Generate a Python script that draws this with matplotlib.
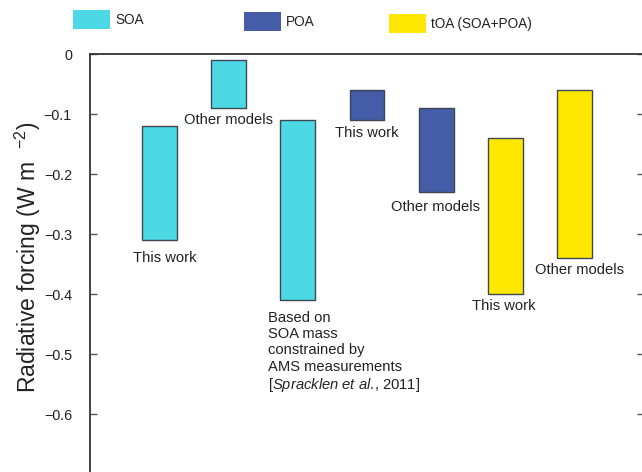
import matplotlib
matplotlib.use("Agg")
import matplotlib.pyplot as plt
from matplotlib.patches import Patch

# Radiative forcing ranges (W m-2) for each estimate
groups = ["SOA", "SOA", "SOA", "POA", "POA", "tOA", "tOA"]
upper = [-0.12, -0.01, -0.11, -0.06, -0.09, -0.14, -0.06]
lower = [-0.31, -0.09, -0.41, -0.11, -0.23, -0.40, -0.34]
bar_labels = [
    "This work",
    "Other models",
    "Based on\nSOA mass\nconstrained by\nAMS measurements\n[$\\it{Spracklen\\ et\\ al.}\\!\\mathrm{,}$ 2011]",
    "This work",
    "Other models",
    "This work",
    "Other models",
]
legend_names = {"SOA": "SOA", "POA": "POA", "tOA": "tOA (SOA+POA)"}
yticks = [0, -0.1, -0.2, -0.3, -0.4, -0.5, -0.6]

colors = {"SOA": "#4dd8e6", "POA": "#455ca8", "tOA": "#ffe800"}
edge = "#3d4652"
txt = "#222222"
font = "Liberation Sans"

plt.rcParams["font.family"] = [font, "DejaVu Sans"]
plt.rcParams["mathtext.fontset"] = "custom"
plt.rcParams["mathtext.rm"] = font
plt.rcParams["mathtext.it"] = font + ":italic"
plt.rcParams["axes.unicode_minus"] = True

fig = plt.figure(figsize=(6.42, 4.72), dpi=100)
W, H = 642, 472
ax = fig.add_axes([90 / W, (418 - 480) / H, 554 / W, 480 / H])

xs = list(range(1, len(upper) + 1))
heights = [u - l for u, l in zip(upper, lower)]
ax.bar(xs, heights, bottom=lower, width=0.5,
       color=[colors[g] for g in groups], edgecolor=edge, linewidth=1.0, zorder=2)

# label placement below each bar (pixel offsets)
label_dx = [5.5, 0, -29.5, -0.5, -1, -2, 4.5]
label_dy = [-11, -5, -11, -6, -8, -5, -5]
label_ha = ["center", "center", "left", "center", "center", "center", "center"]
for x, lo, lab, dx, dy, ha in zip(xs, lower, bar_labels, label_dx, label_dy, label_ha):
    ax.annotate(lab, xy=(x, lo), xytext=(dx, dy), textcoords="offset pixels",
                ha=ha, va="top", fontsize=10.6, color=txt,
                linespacing=1.2, multialignment="left")

ax.set_xlim(0, 8)
ax.set_ylim(-0.8, 0)
ax.set_xticks([])
ax.set_yticks(yticks)
ax.set_yticklabels(["0" if t == 0 else f"{t:.1f}".replace("-", "\u2212") for t in yticks])
ax.tick_params(axis="y", direction="in", length=5, width=1, color="#555555",
               labelsize=10.4, labelcolor=txt, pad=13, right=True)
for s in ax.spines.values():
    s.set_color("#333333")
    s.set_linewidth(1.3)

ax.set_ylabel("Radiative forcing (W m  $^{\\mathrm{\u2212}2}$)", fontsize=16.5, color=txt)
ax.yaxis.set_label_coords(-0.085, 0.577)

# one legend entry per group, spread along the top
leg_pos = [(73, 10), (244, 12), (389, 14)]
for g, (px, py) in zip(["SOA", "POA", "tOA"], leg_pos):
    leg = fig.legend(handles=[Patch(facecolor=colors[g], edgecolor="none", label=legend_names[g])],
                     loc="upper left", bbox_to_anchor=(px / W, 1 - py / H),
                     frameon=False, borderpad=0, borderaxespad=0,
                     handlelength=2.7, handleheight=1.75, handletextpad=0.4,
                     prop={"family": font, "size": 9.8})
    for t in leg.get_texts():
        t.set_color(txt)

fig.savefig("out.png", dpi=100)
